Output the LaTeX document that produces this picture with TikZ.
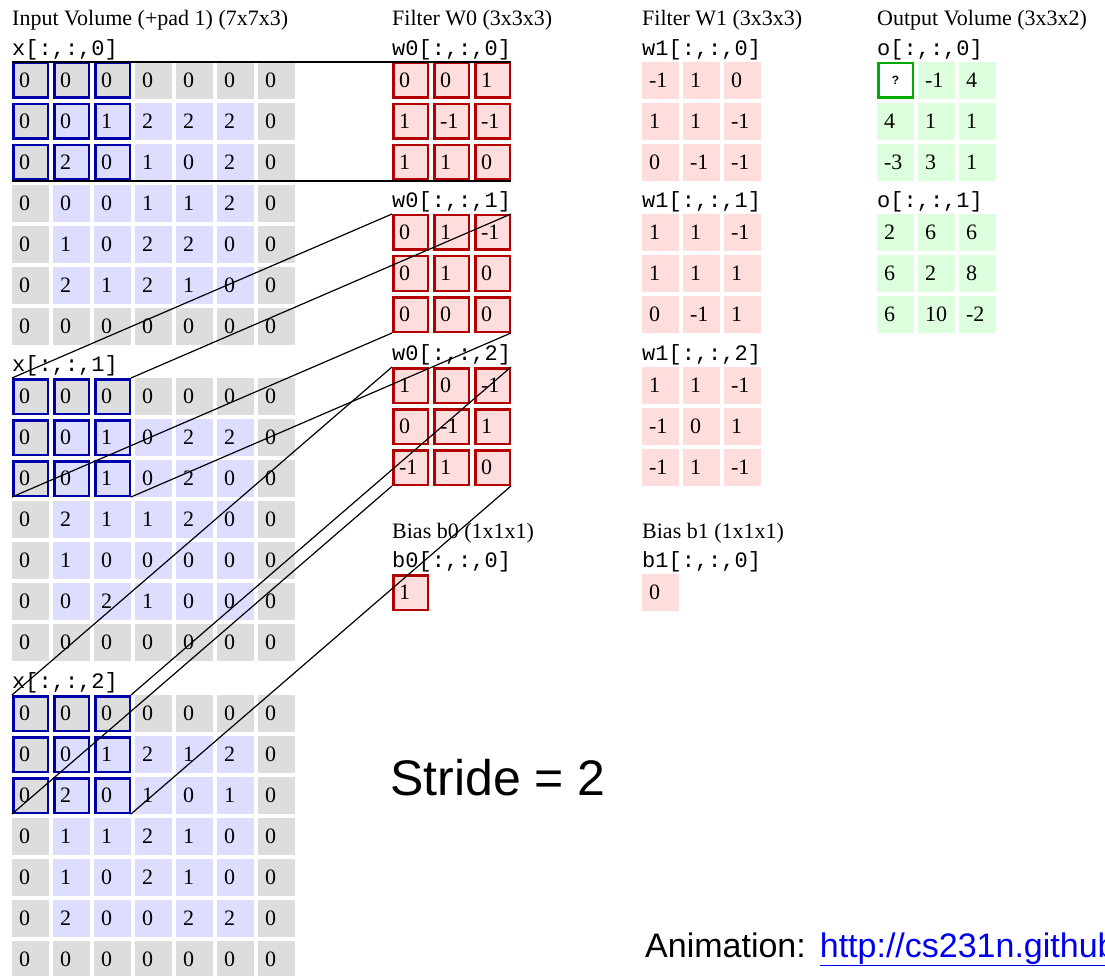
\documentclass[tikz,border=0pt]{standalone}
\usepackage{fontspec}
\setmainfont{Liberation Serif}
\setsansfont{Liberation Sans}
\setmonofont{Liberation Mono}

\definecolor{padgray}{RGB}{221,221,221}
\definecolor{inblue}{RGB}{221,221,255}
\definecolor{wpink}{RGB}{255,221,221}
\definecolor{ogreen}{RGB}{221,255,221}
\definecolor{winblue}{RGB}{0,0,170}
\definecolor{wred}{RGB}{180,0,0}
\definecolor{qgreen}{RGB}{0,170,0}
\definecolor{linkblue}{RGB}{0,0,238}

\newcommand{\numfont}{\fontsize{22}{24}\selectfont}

% one 7x7 slice of the padded input: #1 slice, #2 top edge, #3 rows
\newcommand{\inslice}[3]{%
  \node[mono] (xlab-#1) at (12,#2-12) {x[:,:,#1]};
  \foreach \row [count=\ri from 0] in {#3} {
    \foreach \v [count=\ci from 0] in \row {
      \pgfmathtruncatemacro\ispad{(\ri==0)||(\ri==6)||(\ci==0)||(\ci==6)}
      \pgfmathtruncatemacro\inwin{(\ri<3)&&(\ci<3)}
      \ifnum\ispad=1 \tikzset{curcell/.style={padcell}}\else\tikzset{curcell/.style={incell}}\fi
      \ifnum\inwin=1 \tikzset{curwin/.style={win}}\else\tikzset{curwin/.style={}}\fi
      \node[curcell, curwin] (x-#1-\ri-\ci) at ({30.5+41*\ci},{#2+18.5+41*\ri}) {\v};
    }
  }
}

% a grid of cells: #1 name, #2 left edge, #3 top edge, #4 style, #5 rows
\newcommand{\cellgrid}[5]{%
  \foreach \row [count=\ri from 0] in {#5} {
    \foreach \v [count=\ci from 0] in \row {
      \node[#4] (#1-\ri-\ci) at ({#2+18.5+41*\ci},{#3+18.5+41*\ri}) {\v};
    }
  }
}

\begin{document}
\begin{tikzpicture}[x=1pt, y=-1pt,
    cell/.style={minimum size=37pt, inner xsep=7pt, inner ysep=0pt, outer sep=0pt,
      text width=23pt, align=left, font=\numfont},
    padcell/.style={cell, fill=padgray},
    incell/.style={cell, fill=inblue},
    win/.style={draw=winblue, line width=2.5pt, minimum size=34.5pt, inner xsep=5.75pt, outer sep=1.25pt},
    wcell/.style={cell, fill=wpink, draw=wred, line width=2.5pt, minimum size=34.5pt,
      inner xsep=5.75pt, outer sep=1.25pt},
    vcell/.style={cell, fill=wpink},
    ocell/.style={cell, fill=ogreen},
    qcell/.style={cell, fill=white, draw=qgreen, line width=2.5pt, minimum size=34.5pt,
      inner xsep=5.75pt, outer sep=1.25pt, align=center,
      font=\sffamily\bfseries\fontsize{12}{12}\selectfont},
    head/.style={anchor=west, inner sep=0pt, font=\fontsize{22}{24}\selectfont},
    mono/.style={anchor=west, inner sep=0pt, font=\ttfamily\fontsize{22}{24}\selectfont},
    link/.style={black, line width=1.2pt}
  ]
  \useasboundingbox (0,0) rectangle (1105,976);
  \clip (0,0) rectangle (1105,976);

  % Input volume
  \node[head] (intitle) at (12,20) {Input Volume (+pad 1) (7x7x3)};
  \inslice{0}{62}{{0,0,0,0,0,0,0},{0,0,1,2,2,2,0},{0,2,0,1,0,2,0},{0,0,0,1,1,2,0},
    {0,1,0,2,2,0,0},{0,2,1,2,1,0,0},{0,0,0,0,0,0,0}}
  \inslice{1}{378}{{0,0,0,0,0,0,0},{0,0,1,0,2,2,0},{0,0,1,0,2,0,0},{0,2,1,1,2,0,0},
    {0,1,0,0,0,0,0},{0,0,2,1,0,0,0},{0,0,0,0,0,0,0}}
  \inslice{2}{695}{{0,0,0,0,0,0,0},{0,0,1,2,1,2,0},{0,2,0,1,0,1,0},{0,1,1,2,1,0,0},
    {0,1,0,2,1,0,0},{0,2,0,0,2,2,0},{0,0,0,0,0,0,0}}

  % Filter W0 and its bias
  \node[head] (w0title) at (392,20) {Filter W0 (3x3x3)};
  \node[mono] (w0lab-0) at (392,50) {w0[:,:,0]};
  \cellgrid{w0-0}{392}{62}{wcell}{{0,0,1},{1,-1,-1},{1,1,0}}
  \node[mono] (w0lab-1) at (392,202) {w0[:,:,1]};
  \cellgrid{w0-1}{392}{214}{wcell}{{0,1,-1},{0,1,0},{0,0,0}}
  \node[mono] (w0lab-2) at (392,355) {w0[:,:,2]};
  \cellgrid{w0-2}{392}{367}{wcell}{{1,0,-1},{0,-1,1},{-1,1,0}}
  \node[head] (b0title) at (392,533) {Bias b0 (1x1x1)};
  \node[mono] (b0lab) at (392,562) {b0[:,:,0]};
  \cellgrid{b0}{392}{574}{wcell}{{1}}

  % Filter W1 and its bias
  \node[head] (w1title) at (642,20) {Filter W1 (3x3x3)};
  \node[mono] (w1lab-0) at (642,50) {w1[:,:,0]};
  \cellgrid{w1-0}{642}{62}{vcell}{{-1,1,0},{1,1,-1},{0,-1,-1}}
  \node[mono] (w1lab-1) at (642,202) {w1[:,:,1]};
  \cellgrid{w1-1}{642}{214}{vcell}{{1,1,-1},{1,1,1},{0,-1,1}}
  \node[mono] (w1lab-2) at (642,355) {w1[:,:,2]};
  \cellgrid{w1-2}{642}{367}{vcell}{{1,1,-1},{-1,0,1},{-1,1,-1}}
  \node[head] (b1title) at (642,533) {Bias b1 (1x1x1)};
  \node[mono] (b1lab) at (642,562) {b1[:,:,0]};
  \cellgrid{b1}{642}{574}{vcell}{{0}}

  % Output volume
  \node[head] (otitle) at (877,20) {Output Volume (3x3x2)};
  \node[mono] (olab-0) at (877,50) {o[:,:,0]};
  \cellgrid{o-0}{877}{62}{ocell}{{{},-1,4},{4,1,1},{-3,3,1}}
  \node[qcell] (qmark) at (o-0-0-0) {?};
  \node[mono] (olab-1) at (877,202) {o[:,:,1]};
  \cellgrid{o-1}{877}{214}{ocell}{{2,6,6},{6,2,8},{6,10,-2}}

  % Receptive field to filter slice
  \foreach \k in {0,1,2} {
    \draw[link] (x-\k-0-0.north west) -- (w0-\k-0-0.north west);
    \draw[link] (x-\k-0-2.north east) -- (w0-\k-0-2.north east);
    \draw[link] (x-\k-2-0.south west) -- (w0-\k-2-0.south west);
    \draw[link] (x-\k-2-2.south east) -- (w0-\k-2-2.south east);
  }

  % Notes
  \node[anchor=base west, inner sep=0pt, font=\sffamily\fontsize{50}{56}\selectfont]
    (stride) at (390,795) {Stride = 2};
  \node[anchor=base west, inner sep=0pt, font=\sffamily\fontsize{34}{40}\selectfont]
    (anim) at (645,957) {Animation:\hspace{14pt}\textcolor{linkblue}{\underline{http://cs231n.github}}};
\end{tikzpicture}
\end{document}
